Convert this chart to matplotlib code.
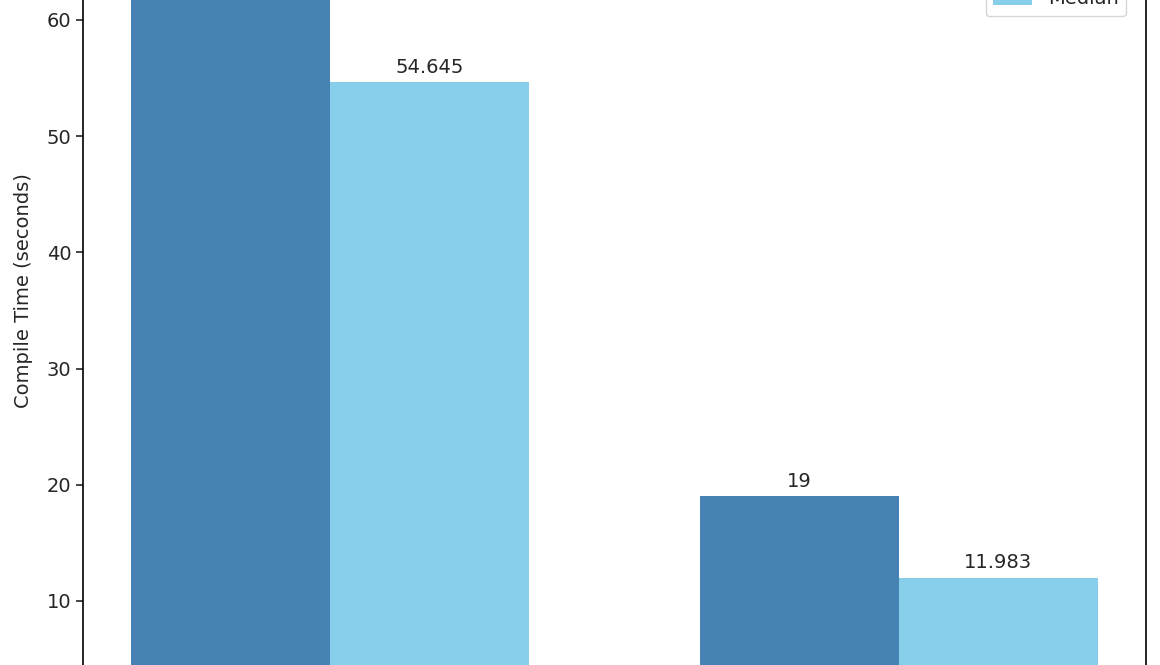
import matplotlib
matplotlib.use("Agg")
import matplotlib.pyplot as plt
import numpy as np

categories = ["A", "B"]
mean_vals = [70.0, 19]
median_vals = [54.645, 11.983]

plt.rcParams.update({"font.size": 14, "text.color": "#262626",
                     "axes.labelcolor": "#262626", "ytick.color": "#262626",
                     "xtick.color": "#262626", "axes.linewidth": 1.2,
                     "ytick.major.size": 5, "ytick.major.width": 1.2,
                     "xtick.major.size": 5, "xtick.major.width": 1.2})

fig = plt.figure(figsize=(11.6, 6.65), dpi=100)
ax = fig.add_axes([83/1160, -0.0785, 1063/1160, 1.2844])
x = np.arange(len(categories))
w = 0.35
b1 = ax.bar(x - w/2, mean_vals, w, color="steelblue", label="Mean")
b2 = ax.bar(x + w/2, median_vals, w, color="skyblue", label="Median")
ax.bar_label(b1, padding=4)
ax.bar_label(b2, padding=4)
ax.set_ylim(0, 73.5)
ax.set_xticks(x)
ax.set_xticklabels(categories)
ax.set_ylabel("Compile Time (seconds)", labelpad=10)
ax.legend(loc="lower right", bbox_to_anchor=(1136/1160, (665-26)/665),
          bbox_transform=fig.transFigure)
fig.savefig("out.png", dpi=100)
